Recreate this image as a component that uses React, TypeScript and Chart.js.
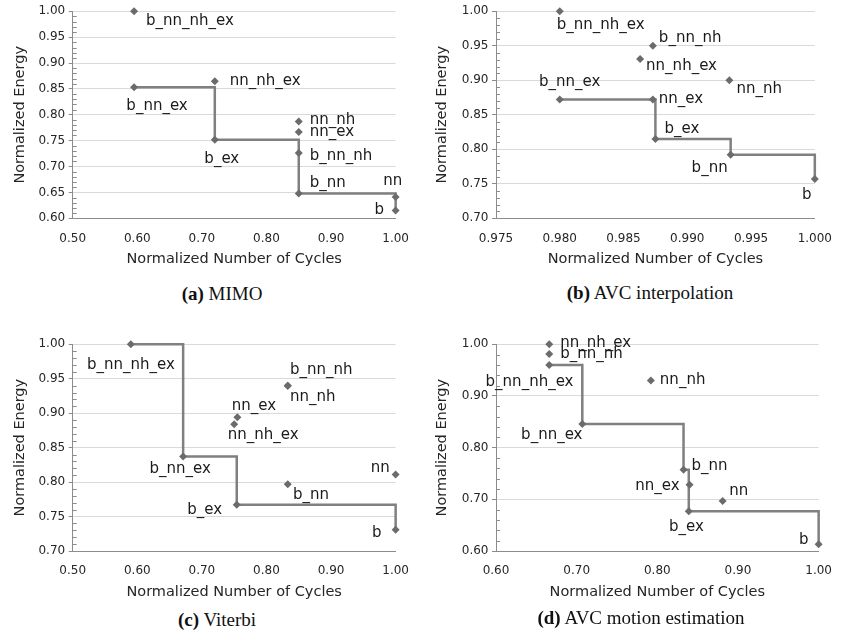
import React, { useEffect, useRef } from 'react';
import { Chart, registerables } from 'chart.js';
Chart.register(...registerables);

// ---------- (a) MIMO ----------
const namesA = ['b_nn_nh_ex', 'b_nn_ex', 'nn_nh_ex', 'b_ex', 'nn_nh', 'nn_ex', 'b_nn_nh', 'b_nn', 'nn', 'b'];
const cyclesA = [0.595, 0.595, 0.72, 0.72, 0.85, 0.85, 0.85, 0.85, 1.0, 1.0];
const energyA = [1.0, 0.853, 0.865, 0.752, 0.787, 0.767, 0.726, 0.648, 0.641, 0.615];
const paretoA = ['b_nn_ex', 'b_ex', 'b_nn', 'b'];
const xTicksA = [0.5, 0.6, 0.7, 0.8, 0.9, 1.0];
const yTicksA = [0.6, 0.65, 0.7, 0.75, 0.8, 0.85, 0.9, 0.95, 1.0];

// ---------- (b) AVC interpolation ----------
const namesB = ['b_nn_nh_ex', 'b_nn_nh', 'nn_nh_ex', 'nn_nh', 'b_nn_ex', 'nn_ex', 'b_ex', 'b_nn', 'b'];
const cyclesB = [0.98, 0.9873, 0.9863, 0.9933, 0.98, 0.9873, 0.9875, 0.9934, 1.0];
const energyB = [1.0, 0.95, 0.931, 0.9, 0.872, 0.872, 0.815, 0.792, 0.757];
const paretoB = ['b_nn_ex', 'b_ex', 'b_nn', 'b'];
const xTicksB = [0.975, 0.98, 0.985, 0.99, 0.995, 1.0];
const yTicksB = [0.7, 0.75, 0.8, 0.85, 0.9, 0.95, 1.0];

// ---------- (c) Viterbi ----------
const namesC = ['b_nn_nh_ex', 'b_nn_ex', 'b_ex', 'b', 'nn', 'b_nn', 'b_nn_nh', 'nn_nh', 'nn_ex', 'nn_nh_ex'];
const cyclesC = [0.59, 0.671, 0.754, 1.0, 1.0, 0.833, 0.833, 0.833, 0.755, 0.75];
const energyC = [1.0, 0.837, 0.767, 0.731, 0.811, 0.797, 0.94, 0.94, 0.894, 0.884];
const paretoC = ['b_nn_nh_ex', 'b_nn_ex', 'b_ex', 'b'];
const xTicksC = [0.5, 0.6, 0.7, 0.8, 0.9, 1.0];
const yTicksC = [0.7, 0.75, 0.8, 0.85, 0.9, 0.95, 1.0];

// ---------- (d) AVC motion estimation ----------
const namesD = ['nn_nh_ex', 'b_nn_nh', 'b_nn_nh_ex', 'nn_nh', 'b_nn_ex', 'b_nn', 'nn_ex', 'b_ex', 'nn', 'b'];
const cyclesD = [0.666, 0.666, 0.666, 0.792, 0.707, 0.8325, 0.84, 0.839, 0.881, 1.0];
const energyD = [1.0, 0.981, 0.96, 0.93, 0.846, 0.757, 0.728, 0.677, 0.697, 0.613];
const paretoD = ['b_nn_nh_ex', 'b_nn_ex', 'b_nn', 'b_ex', 'b'];
const xTicksD = [0.6, 0.7, 0.8, 0.9, 1.0];
const yTicksD = [0.6, 0.7, 0.8, 0.9, 1.0];

// label placement: [textAlign, dx, dy] relative to the marker
type Place = [CanvasTextAlign, number, number];
const placesA: Place[] = [
  ['left', 12, 9.5], ['center', 23, 19], ['left', 15, 0], ['center', 7, 19.6], ['left', 11, -1],
  ['left', 11, 0.7], ['left', 11, 3.4], ['left', 11, -10.6], ['center', -3, -15.6], ['right', -11.6, -0.7],
];
const placesB: Place[] = [
  ['left', -3, 14], ['left', 6, -8], ['left', 6, 7], ['left', 7, 9], ['center', 10, -18],
  ['left', 6, -1], ['left', 9, -10], ['right', -3, 13], ['center', -8, 16],
];
const placesC: Place[] = [
  ['center', 0, 20.7], ['center', -3, 12.3], ['right', -14.6, 5], ['right', -14, 3.6], ['right', -6, -6],
  ['left', 5.3, 11], ['left', 2.3, -15.7], ['left', 2.3, 11], ['left', -5.7, -11.7], ['left', -6.4, 10.7],
];
const placesD: Place[] = [
  ['left', 11, -1.6], ['left', 11, 0], ['center', -19.7, 16.7], ['left', 9, 0], ['center', -30.5, 11.3],
  ['left', 8, -4], ['right', -10, 1.7], ['center', -2.3, 16], ['left', 6.7, -10], ['right', -10, -4],
];

const FONT = '"DejaVu Sans", Verdana, sans-serif';
const AXIS = '#8c8c8c';
const GRID = '#d9d9d9';
const TEXT = '#262626';

interface Spec {
  names: string[]; cycles: number[]; energy: number[]; pareto: string[];
  xTicks: number[]; yTicks: number[]; xDec: number; yDec: number; yMinor: number; places: Place[];
  left: number; top: number; w: number; h: number; yW: number; xH: number; padTop: number; padRight: number;
}

const labelPlugin = {
  id: 'ptLabels',
  afterDatasetsDraw(chart: any) {
    const spec: Spec = chart.options.plugins.ptLabels.spec;
    const meta = chart.getDatasetMeta(0);
    const ctx = chart.ctx;
    ctx.save();
    ctx.font = `15px ${FONT}`;
    ctx.fillStyle = '#1a1a1a';
    ctx.textBaseline = 'middle';
    meta.data.forEach((el: any, i: number) => {
      const [al, dx, dy] = spec.places[i];
      ctx.textAlign = al;
      ctx.fillText(spec.names[i], el.x + dx, el.y + dy);
    });
    ctx.restore();
  },
};

const minorPlugin = {
  id: 'minorTicks',
  afterDraw(chart: any) {
    const spec: Spec = chart.options.plugins.minorTicks.spec;
    const ys = chart.scales.y;
    const left = chart.chartArea.left;
    const ctx = chart.ctx;
    const lo = spec.yTicks[0];
    const hi = spec.yTicks[spec.yTicks.length - 1];
    const n = Math.round((hi - lo) / spec.yMinor);
    ctx.save();
    ctx.strokeStyle = AXIS;
    ctx.lineWidth = 1;
    for (let k = 1; k < n; k++) {
      const v = lo + k * spec.yMinor;
      if (spec.yTicks.some((t) => Math.abs(t - v) < 1e-6)) continue;
      const py = Math.round(ys.getPixelForValue(v)) + 0.5;
      ctx.beginPath();
      ctx.moveTo(left, py);
      ctx.lineTo(left + 4, py);
      ctx.stroke();
    }
    ctx.restore();
  },
};

function Panel({ spec }: { spec: Spec }) {
  const ref = useRef<HTMLCanvasElement>(null);
  useEffect(() => {
    const pts = spec.names.map((n, i) => ({ x: spec.cycles[i], y: spec.energy[i] }));
    const front = spec.pareto.map((n) => {
      const i = spec.names.indexOf(n);
      return { x: spec.cycles[i], y: spec.energy[i] };
    });
    const chart = new Chart(ref.current!, {
      type: 'scatter',
      data: {
        datasets: [
          {
            type: 'scatter', data: pts, pointStyle: 'rectRot', pointRadius: 4, pointHoverRadius: 4,
            backgroundColor: '#6b6b6b', borderColor: '#6b6b6b', borderWidth: 0, clip: false, order: 0,
          } as any,
          {
            type: 'line', data: front, stepped: 'before', borderColor: '#808080', borderWidth: 2.5,
            pointRadius: 0, fill: false, clip: false, order: 1,
          } as any,
        ],
      },
      options: {
        responsive: false,
        animation: false,
        events: [],
        layout: { padding: { top: spec.padTop, right: spec.padRight, left: 0, bottom: 0 } },
        plugins: {
          legend: { display: false },
          tooltip: { enabled: false },
          ptLabels: { spec },
          minorTicks: { spec },
        } as any,
        scales: {
          x: {
            type: 'linear',
            min: spec.xTicks[0],
            max: spec.xTicks[spec.xTicks.length - 1],
            afterBuildTicks: (s: any) => { s.ticks = spec.xTicks.map((v) => ({ value: v })); },
            afterFit: (s: any) => { s.height = spec.xH; },
            ticks: {
              callback: (v: any) => Number(v).toFixed(spec.xDec),
              font: { family: FONT, size: 12 }, color: TEXT, padding: 13, maxRotation: 0, autoSkip: false,
            },
            grid: { display: false, drawTicks: false },
            border: { display: true, color: AXIS, width: 1 },
            title: {
              display: true, text: 'Normalized Number of Cycles', color: TEXT,
              font: { family: FONT, size: 14.5 }, padding: { top: 0, bottom: 7 },
            },
          },
          y: {
            type: 'linear',
            min: spec.yTicks[0],
            max: spec.yTicks[spec.yTicks.length - 1],
            afterBuildTicks: (s: any) => { s.ticks = spec.yTicks.map((v) => ({ value: v })); },
            afterFit: (s: any) => { s.width = spec.yW; },
            ticks: {
              callback: (v: any) => Number(v).toFixed(spec.yDec),
              font: { family: FONT, size: 12 }, color: TEXT, padding: 3.5, autoSkip: false,
            },
            grid: { display: true, color: GRID, lineWidth: 1, drawTicks: true, tickLength: 4, tickColor: AXIS },
            border: { display: true, color: AXIS, width: 1 },
            title: {
              display: true, text: 'Normalized Energy', color: TEXT,
              font: { family: FONT, size: 14.5 }, padding: { top: 12, bottom: 0 },
            },
          },
        },
      },
      plugins: [labelPlugin, minorPlugin],
    } as any);
    return () => chart.destroy();
  }, [spec]);
  return (
    <div style={{ position: 'absolute', left: spec.left, top: spec.top, width: spec.w, height: spec.h }}>
      <canvas ref={ref} width={spec.w} height={spec.h} style={{ width: spec.w, height: spec.h, display: 'block' }} />
    </div>
  );
}

const specA: Spec = {
  names: namesA, cycles: cyclesA, energy: energyA, pareto: paretoA, xTicks: xTicksA, yTicks: yTicksA,
  xDec: 2, yDec: 2, yMinor: 0.01, places: placesA,
  left: 0, top: 0, w: 422, h: 275, yW: 72.7, xH: 56.7, padTop: 11.3, padRight: 17,
};
const specB: Spec = {
  names: namesB, cycles: cyclesB, energy: energyB, pareto: paretoB, xTicks: xTicksB, yTicks: yTicksB,
  xDec: 3, yDec: 2, yMinor: 0.01, places: placesB,
  left: 422, top: 0, w: 423, h: 275, yW: 74, xH: 56.7, padTop: 11.3, padRight: 20.3,
};
const specC: Spec = {
  names: namesC, cycles: cyclesC, energy: energyC, pareto: paretoC, xTicks: xTicksC, yTicks: yTicksC,
  xDec: 2, yDec: 2, yMinor: 0.01, places: placesC,
  left: 0, top: 333, w: 422, h: 275, yW: 72.7, xH: 57, padTop: 11.3, padRight: 17.7,
};
const specD: Spec = {
  names: namesD, cycles: cyclesD, energy: energyD, pareto: paretoD, xTicks: xTicksD, yTicks: yTicksD,
  xDec: 2, yDec: 2, yMinor: 0.02, places: placesD,
  left: 422, top: 333, w: 423, h: 275, yW: 74, xH: 57, padTop: 11.3, padRight: 17,
};

const captions: { tag: string; text: string; cx: number; cy: number }[] = [
  { tag: '(a)', text: 'MIMO', cx: 222, cy: 294 },
  { tag: '(b)', text: 'AVC interpolation', cx: 650, cy: 293 },
  { tag: '(c)', text: 'Viterbi', cx: 217, cy: 620 },
  { tag: '(d)', text: 'AVC motion estimation', cx: 641, cy: 618 },
];

export default function App() {
  return (
    <div style={{ position: 'fixed', left: 0, top: 0, width: 845, height: 643, background: '#fff', overflow: 'hidden' }}>
      <Panel spec={specA} />
      <Panel spec={specB} />
      <Panel spec={specC} />
      <Panel spec={specD} />
      {captions.map((c) => (
        <div
          key={c.tag}
          style={{
            position: 'absolute', left: c.cx - 200, width: 400, top: c.cy - 12, height: 24, lineHeight: '24px',
            textAlign: 'center', fontFamily: '"Liberation Serif", "Times New Roman", serif', fontSize: 19, color: '#111',
            whiteSpace: 'nowrap',
          }}
        >
          <b>{c.tag}</b> {c.text}
        </div>
      ))}
    </div>
  );
}
